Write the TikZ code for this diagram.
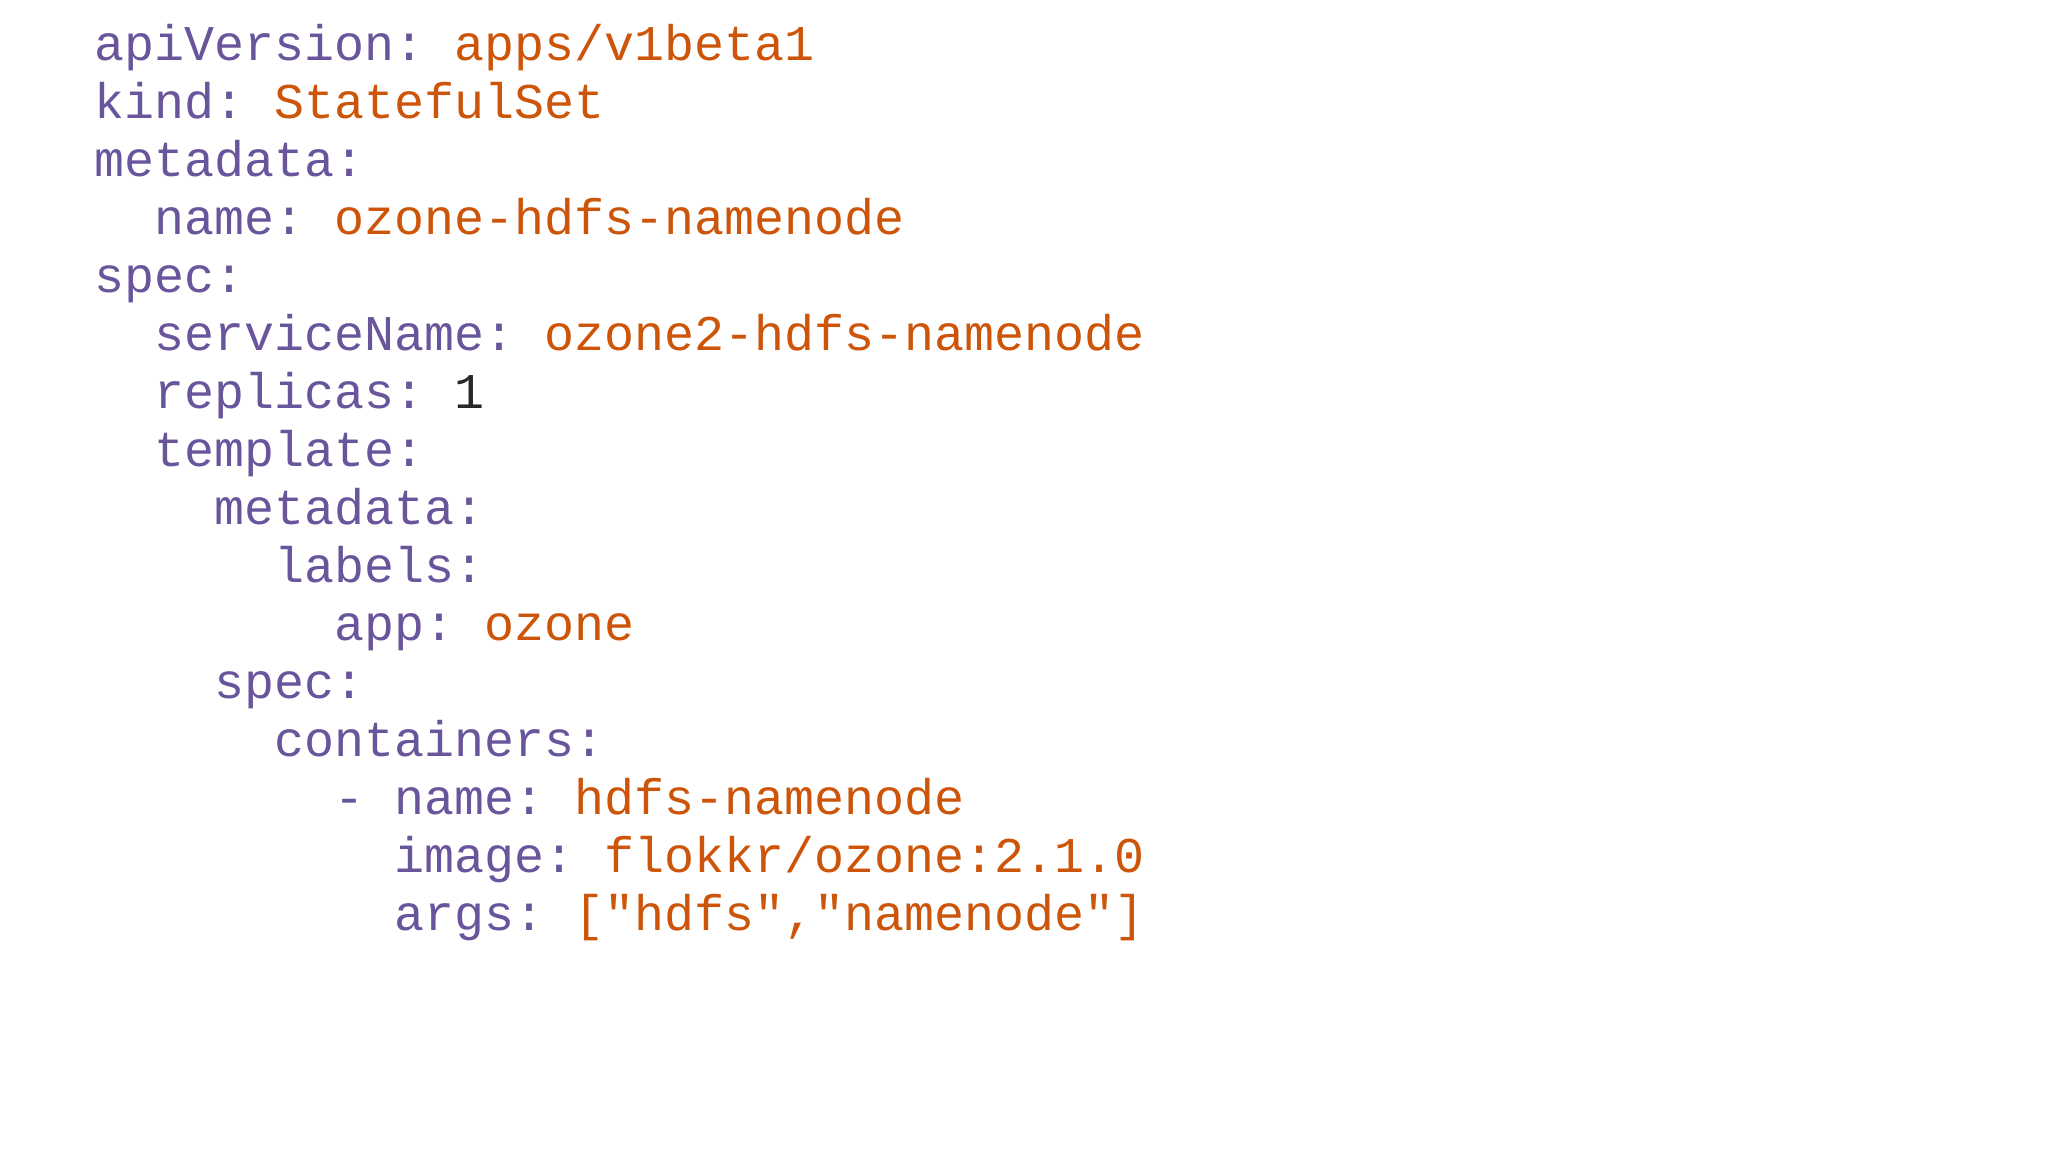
\documentclass[tikz,border=0pt]{standalone}
\usepackage{fontspec}
\setmonofont{Liberation Mono}
\definecolor{keyc}{RGB}{105,85,155}
\definecolor{valc}{RGB}{205,85,10}
\definecolor{numc}{RGB}{40,40,40}
\begin{document}
\begin{tikzpicture}[x=1pt,y=-1pt,
  codeline/.style={anchor=base west,inner sep=0pt,font=\ttfamily\fontsize{50}{58}\selectfont}]
\useasboundingbox[fill=white] (0,0) rectangle (2048,1152);
\newcommand{\K}[1]{\textcolor{keyc}{#1}}
\newcommand{\V}[1]{\textcolor{valc}{#1}}
\def\cw{30}
\node[codeline] (l1) at (94+0*\cw,60+0*58) {\K{apiVersion:} \V{apps/v1beta1}};
\node[codeline] (l2) at (94+0*\cw,60+1*58) {\K{kind:} \V{StatefulSet}};
\node[codeline] (l3) at (94+0*\cw,60+2*58) {\K{metadata:}};
\node[codeline] (l4) at (94+2*\cw,60+3*58) {\K{name:} \V{ozone-hdfs-namenode}};
\node[codeline] (l5) at (94+0*\cw,60+4*58) {\K{spec:}};
\node[codeline] (l6) at (94+2*\cw,60+5*58) {\K{serviceName:} \V{ozone2-hdfs-namenode}};
\node[codeline] (l7) at (94+2*\cw,60+6*58) {\K{replicas:} \textcolor{numc}{1}};
\node[codeline] (l8) at (94+2*\cw,60+7*58) {\K{template:}};
\node[codeline] (l9) at (94+4*\cw,60+8*58) {\K{metadata:}};
\node[codeline] (l10) at (94+6*\cw,60+9*58) {\K{labels:}};
\node[codeline] (l11) at (94+8*\cw,60+10*58) {\K{app:} \V{ozone}};
\node[codeline] (l12) at (94+4*\cw,60+11*58) {\K{spec:}};
\node[codeline] (l13) at (94+6*\cw,60+12*58) {\K{containers:}};
\node[codeline] (l14) at (94+8*\cw,60+13*58) {\K{- name:} \V{hdfs-namenode}};
\node[codeline] (l15) at (94+10*\cw,60+14*58) {\K{image:} \V{flokkr/ozone:2.1.0}};
\node[codeline] (l16) at (94+10*\cw,60+15*58) {\K{args:} \V{["hdfs","namenode"]}};
\end{tikzpicture}
\end{document}
